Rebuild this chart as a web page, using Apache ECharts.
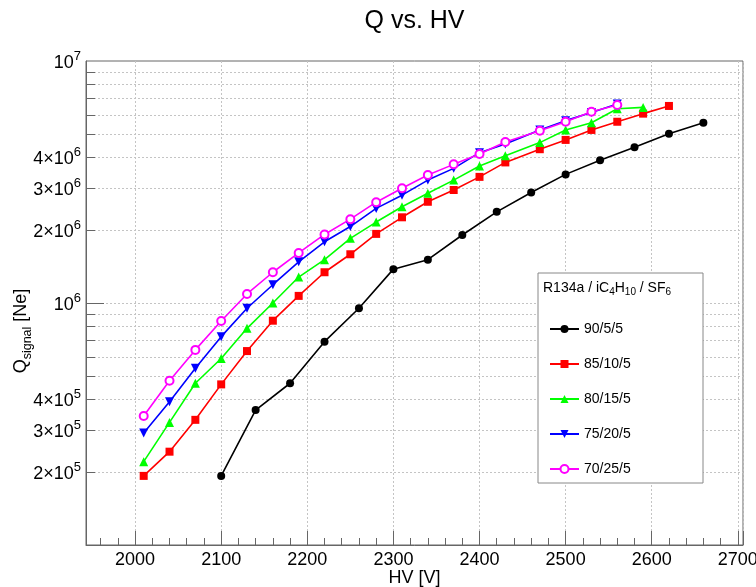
<!DOCTYPE html>
<html><head><meta charset="utf-8">
<script src="https://cdn.jsdelivr.net/npm/echarts@6/dist/echarts.min.js"></script>
<style>html,body{margin:0;padding:0;background:#fff}#c{width:756px;height:587px}</style>
</head><body><div id="c"></div>
<script>
// ---- data ----
const hv90 = [2100,2140,2180,2220,2260,2300,2340,2380,2420,2460,2500,2540,2580,2620,2660];
const q90  = [1.93e5,3.61e5,4.66e5,6.92e5,9.51e5,1.38e6,1.51e6,1.91e6,2.38e6,2.86e6,3.40e6,3.89e6,4.40e6,5.01e6,5.56e6];
const hv85 = [2010,2040,2070,2100,2130,2160,2190,2220,2250,2280,2310,2340,2370,2400,2430,2470,2500,2530,2560,2590,2620];
const q85  = [1.93e5,2.43e5,3.29e5,4.61e5,6.33e5,8.45e5,1.07e6,1.34e6,1.59e6,1.93e6,2.26e6,2.62e6,2.93e6,3.32e6,3.81e6,4.32e6,4.72e6,5.19e6,5.61e6,6.06e6,6.52e6];
const hv80 = [2010,2040,2070,2100,2130,2160,2190,2220,2250,2280,2310,2340,2370,2400,2430,2470,2500,2530,2560,2590];
const q80  = [2.21e5,3.21e5,4.66e5,5.90e5,7.86e5,1.00e6,1.28e6,1.51e6,1.85e6,2.16e6,2.50e6,2.84e6,3.22e6,3.68e6,4.06e6,4.60e6,5.19e6,5.56e6,6.35e6,6.43e6];
const hv75 = [2010,2040,2070,2100,2130,2160,2190,2220,2250,2280,2310,2340,2370,2400,2430,2470,2500,2530,2560];
const q75  = [2.90e5,3.91e5,5.37e5,7.26e5,9.51e5,1.19e6,1.48e6,1.79e6,2.07e6,2.46e6,2.79e6,3.22e6,3.60e6,4.18e6,4.54e6,5.19e6,5.67e6,6.12e6,6.64e6];
const hv70 = [2010,2040,2070,2100,2130,2160,2190,2220,2250,2280,2310,2340,2370,2400,2430,2470,2500,2530,2560];
const q70  = [3.41e5,4.77e5,6.40e5,8.43e5,1.09e6,1.34e6,1.61e6,1.92e6,2.22e6,2.61e6,2.98e6,3.38e6,3.74e6,4.13e6,4.63e6,5.15e6,5.61e6,6.17e6,6.58e6];
const seriesNames = ['90/5/5','85/10/5','80/15/5','75/20/5','70/25/5'];
const yGridValues = [2e5,3e5,4e5,5e5,6e5,7e5,8e5,9e5,1e6,2e6,3e6,4e6,5e6,6e6,7e6,8e6,9e6];
const yLabelValues = [2e5,3e5,4e5,1e6,2e6,3e6,4e6,1e7];
const xMin = 1943, xMax = 2706, yMin = 1e5, yMax = 1e7;
const titleText = 'Q vs. HV';
const xTitle = 'HV [V]';
const legendHeader = 'R134a / iC{s|4}H{s|10} / SF{s|6}';

// ---- chart ----
const FONT = '"Liberation Sans", Arial, Helvetica, sans-serif';
const styles = [
  {color:'#000000', symbol:'circle', size:8, rotate:0},
  {color:'#ff0000', symbol:'rect', size:8, rotate:0},
  {color:'#00ff00', symbol:'triangle', size:9, rotate:0},
  {color:'#0000ff', symbol:'triangle', size:9, rotate:180},
  {color:'#ff00ff', symbol:'emptyCircle', size:8, rotate:0}
];
const xs = [hv90, hv85, hv80, hv75, hv70];
const ys = [q90, q85, q80, q75, q70];
function pairs(a, b){ return a.map((x,i)=>[x, b[i]]); }

const lineSeries = seriesNames.map((n,i)=>({
  name:n, type:'line', data:pairs(xs[i], ys[i]), z:3,
  symbol:styles[i].symbol, symbolSize:styles[i].size, symbolRotate:styles[i].rotate,
  showAllSymbol:true,
  lineStyle:{color:styles[i].color, width:1.6},
  itemStyle:{color:styles[i].color, borderColor:styles[i].color, borderWidth: styles[i].symbol==='emptyCircle'?1:0},
  emphasis:{disabled:true}
}));

const gridSeries = {
  type:'custom', silent:true, clip:false, z:1,
  data: yGridValues.map(v=>[xMin, v]),
  encode:{x:0, y:1},
  renderItem(params, api){
    const v = api.value(1);
    const p0 = api.coord([xMin, v]);
    const p1 = api.coord([xMax, v]);
    const lg = Math.log10(v);
    const major = Math.abs(lg - Math.round(lg)) < 1e-9;
    const y = Math.round(p0[1]) + 0.5;
    return {type:'group', children:[
      {type:'line', shape:{x1:p0[0], y1:y, x2:p1[0], y2:y}, style:{stroke:'#c4c4c4', lineWidth:1, lineDash:[2,2]}},
      {type:'line', shape:{x1:p0[0], y1:y, x2:p0[0] + (major?18:9), y2:y}, style:{stroke:'#666', lineWidth:1}}
    ]};
  }
};

const labelSeries = {
  type:'custom', silent:true, clip:false, z:5,
  data: yLabelValues.map(v=>[xMin, v]),
  encode:{x:0, y:1},
  renderItem(params, api){
    const v = api.value(1);
    const p = api.coord([xMin, v]);
    const e = Math.floor(Math.log10(v) + 1e-9);
    const m = Math.round(v / Math.pow(10, e));
    const txt = (m === 1 ? '{m|10}' : '{m|' + m + '×10}') + '{e|' + e + '}';
    return {type:'text', x:p[0] - 5, y:p[1] + 2, style:{
      text:txt, align:'right', verticalAlign:'middle',
      rich:{
        m:{fontSize:18, lineHeight:18, fontFamily:FONT, fill:'#000'},
        e:{fontSize:13, lineHeight:13, padding:[0,0,13,0], fontFamily:FONT, fill:'#000'}
      }}};
  }
};

const chart = echarts.init(document.getElementById('c'), null, {renderer:'canvas'});
chart.setOption({
  animation:false,
  backgroundColor:'#fff',
  grid:{left:86, top:61, right:13, bottom:42, show:true, borderColor:'#666', borderWidth:1,
        backgroundColor:'transparent', containLabel:false, outerBoundsMode:'none'},
  xAxis:{
    type:'value', min:xMin, max:xMax, minInterval:100, maxInterval:100, splitNumber:8,
    name:xTitle, nameLocation:'middle', nameGap:24, nameMoveOverlap:false,
    nameTextStyle:{fontSize:18, color:'#000', fontFamily:FONT, verticalAlign:'top', lineHeight:18},
    axisLine:{show:true, lineStyle:{color:'#666'}},
    axisTick:{show:true, inside:true, length:14, lineStyle:{color:'#666'}},
    minorTick:{show:true, splitNumber:5, length:7, lineStyle:{color:'#666'}},
    axisLabel:{fontSize:18, color:'#000', fontFamily:FONT, margin:6, showMinLabel:false, showMaxLabel:false,
               formatter:(v)=>String(v)},
    splitLine:{show:true, lineStyle:{color:'#c4c4c4', type:[2,2], width:1}}
  },
  yAxis:{
    type:'log', min:yMin, max:yMax, logBase:10,
    axisLine:{show:true, lineStyle:{color:'#666'}},
    axisTick:{show:false}, axisLabel:{show:false}, splitLine:{show:false}, minorTick:{show:false}
  },
  legend:{
    orient:'vertical', left:544, top:317, itemWidth:29, itemHeight:10, itemGap:21,
    textStyle:{fontSize:14, fontFamily:FONT, color:'#000', lineHeight:12},
    data:seriesNames, selectedMode:false, z:10
  },
  graphic:[
    {type:'rect', z:6, shape:{x:538, y:273, width:165, height:210}, style:{fill:'#fff', stroke:'#888', lineWidth:1}},
    {type:'text', z:11, x:543, y:288, style:{text:legendHeader, align:'left', verticalAlign:'middle',
      rich:{s:{fontSize:10, lineHeight:10, padding:[8,0,0,0], fontFamily:FONT, fill:'#000'}},
      fontSize:14, fontFamily:FONT, fill:'#000'}},
    {type:'text', z:11, x:414.5, y:21, style:{text:titleText, align:'center', verticalAlign:'middle', fontSize:25, fontFamily:FONT, fill:'#000'}},
    {type:'text', z:11, x:21, y:331, rotation:Math.PI/2, style:{text:'Q{s|signal} [Ne]', align:'center', verticalAlign:'middle',
      fontSize:18, fontFamily:FONT, fill:'#000',
      rich:{s:{fontSize:12.5, lineHeight:12.5, padding:[14,0,0,0], fontFamily:FONT, fill:'#000'}}}}
  ],
  series:[gridSeries, ...lineSeries, labelSeries]
});
</script></body></html>
